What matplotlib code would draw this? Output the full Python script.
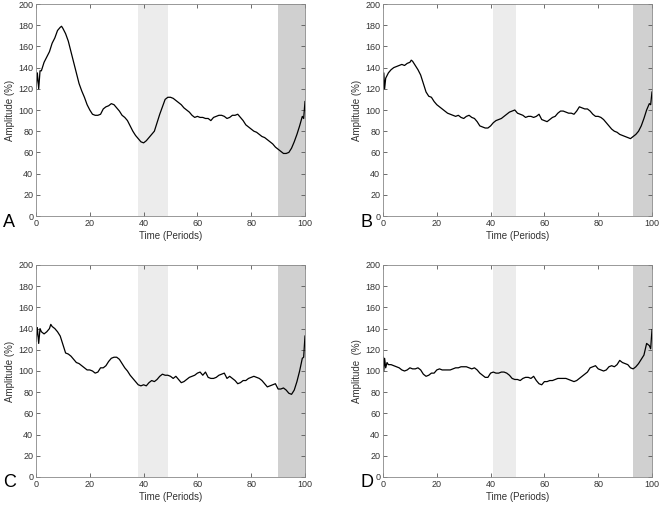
import matplotlib
matplotlib.use("Agg")
import matplotlib.pyplot as plt

plt.rcParams['font.family'] = ['Liberation Sans', 'DejaVu Sans']

# Panel A
xa = [0, 0.5, 1, 1.5, 2, 3, 4, 5, 6, 7, 8, 9, 9.5, 10, 11, 12, 13, 14, 15, 16, 17, 18, 19, 20,
      21, 22, 23, 24, 25, 26, 27, 28, 29, 30, 31, 32, 33, 34, 35, 36, 37, 38, 39, 40,
      41, 42, 43, 44, 45, 46, 47, 48, 49, 50, 51, 52, 53, 54, 55, 56, 57, 58, 59, 60,
      61, 62, 63, 64, 65, 66, 67, 68, 69, 70, 71, 72, 73, 74, 75, 76, 77, 78, 79, 80,
      81, 82, 83, 84, 85, 86, 87, 88, 89, 90, 91, 92, 93, 94, 95, 96, 97, 98, 99, 99.5, 100]
ya = [120, 135, 120, 137, 137, 145, 150, 155, 163, 168, 175, 178, 179, 177, 172, 165, 155, 145, 135, 125, 118, 112, 105, 100,
      96, 95, 95, 96, 101, 103, 104, 106, 105, 102, 99, 95, 93, 90, 85, 80, 76, 73, 70, 69,
      71, 74, 77, 80, 88, 96, 103, 110, 112, 112, 111, 109, 107, 105, 102, 100, 98, 95, 93, 94,
      93, 93, 92, 92, 90, 93, 94, 95, 95, 94, 92, 93, 95, 95, 96, 93, 90, 86, 84, 82,
      80, 79, 77, 75, 74, 72, 70, 68, 65, 63, 61, 59, 59, 60, 64, 70, 77, 85, 94, 92, 108]

# Panel B
xb = [0, 0.3, 0.6, 1, 2, 3, 4, 5, 6, 7, 8, 9, 10, 10.5, 11, 12, 13, 14, 15, 16, 17, 18, 19, 20,
      21, 22, 23, 24, 25, 26, 27, 28, 29, 30, 31, 32, 33, 34, 35, 36, 37, 38, 39, 40,
      41, 42, 43, 44, 45, 46, 47, 48, 49, 50, 51, 52, 53, 54, 55, 56, 57, 58, 59, 60,
      61, 62, 63, 64, 65, 66, 67, 68, 69, 70, 71, 72, 73, 74, 75, 76, 77, 78, 79, 80,
      81, 82, 83, 84, 85, 86, 87, 88, 89, 90, 91, 92, 93, 94, 95, 96, 97, 98, 99, 99.5, 100]
yb = [120, 135, 120, 130, 135, 138, 140, 141, 142, 143, 142, 144, 145, 147, 146, 142, 138, 133, 125, 117, 113, 112, 108, 105,
      103, 101, 99, 97, 96, 95, 94, 95, 93, 92, 94, 95, 93, 92, 89, 85, 84, 83, 83, 85,
      88, 90, 91, 92, 94, 96, 98, 99, 100, 97, 96, 95, 93, 94, 94, 93, 94, 96, 91, 90,
      89, 91, 93, 94, 97, 99, 99, 98, 97, 97, 96, 99, 103, 102, 101, 101, 99, 96, 94, 94,
      93, 91, 88, 85, 82, 80, 79, 77, 76, 75, 74, 73, 75, 77, 80, 85, 92, 100, 106, 105, 117]

# Panel C
xc = [0, 0.5, 1, 1.5, 2, 3, 4, 5, 5.5, 6, 7, 8, 9, 10, 11, 12, 13, 14, 15, 16, 17, 18, 19, 20,
      21, 22, 23, 24, 25, 26, 27, 28, 29, 30, 31, 32, 33, 34, 35, 36, 37, 38, 39, 40,
      41, 42, 43, 44, 45, 46, 47, 48, 49, 50, 51, 52, 53, 54, 55, 56, 57, 58, 59, 60,
      61, 62, 63, 64, 65, 66, 67, 68, 69, 70, 71, 72, 73, 74, 75, 76, 77, 78, 79, 80,
      81, 82, 83, 84, 85, 86, 87, 88, 89, 90, 91, 92, 93, 94, 95, 96, 97, 98, 99, 99.5, 100]
yc = [128, 141, 126, 140, 137, 135, 137, 140, 144, 142, 140, 137, 133, 125, 117, 116, 114, 111, 108, 107, 105, 103, 101, 101,
      100, 98, 99, 103, 103, 105, 109, 112, 113, 113, 111, 107, 103, 100, 96, 93, 90, 87, 86, 87,
      86, 89, 91, 90, 92, 95, 97, 96, 96, 95, 93, 95, 92, 89, 90, 92, 94, 95, 96, 98,
      99, 96, 99, 94, 93, 93, 94, 96, 97, 98, 93, 95, 93, 91, 88, 89, 91, 91, 93, 94,
      95, 94, 93, 91, 88, 85, 86, 87, 88, 83, 83, 84, 82, 79, 78, 82, 90, 100, 112, 113, 133]

# Panel D
xd = [0, 0.3, 0.6, 1, 1.5, 2, 3, 4, 5, 6, 7, 8, 9, 10, 11, 12, 13, 14, 15, 16, 17, 18, 19, 20,
      21, 22, 23, 24, 25, 26, 27, 28, 29, 30, 31, 32, 33, 34, 35, 36, 37, 38, 39, 40,
      41, 42, 43, 44, 45, 46, 47, 48, 49, 50, 51, 52, 53, 54, 55, 56, 57, 58, 59, 60,
      61, 62, 63, 64, 65, 66, 67, 68, 69, 70, 71, 72, 73, 74, 75, 76, 77, 78, 79, 80,
      81, 82, 83, 84, 85, 86, 87, 88, 89, 90, 91, 92, 93, 94, 95, 96, 97, 98, 99, 99.5, 100]
yd = [113, 100, 112, 103, 108, 106, 106, 105, 104, 103, 101, 100, 101, 103, 102, 102, 103, 101, 97, 95, 96, 98, 98, 101,
      102, 101, 101, 101, 101, 102, 103, 103, 104, 104, 104, 103, 102, 103, 101, 98, 96, 94, 94, 98,
      99, 98, 98, 99, 99, 98, 96, 93, 92, 92, 91, 93, 94, 94, 93, 95, 91, 88, 87, 90,
      90, 91, 91, 92, 93, 93, 93, 93, 92, 91, 90, 91, 93, 95, 97, 99, 103, 104, 105, 102,
      101, 100, 101, 104, 105, 104, 106, 110, 108, 107, 106, 103, 102, 104, 107, 111, 115, 126, 124, 121, 139]

labels = ["A", "B", "C", "D"]
ylabels = ["Amplitude (%)", "Amplitude (%)", "Amplitude (%)", "Amplitude  (%)"]
light_band = [(38, 49), (41, 49.5), (38, 49), (41, 49.5)]
dark_band = [(90, 100), (93, 100), (90, 100), (93, 100)]

fig = plt.figure(figsize=(6.61, 5.05), dpi=100)
W, H = 661, 505
boxes = [(36, 4), (383, 4), (36, 265), (383, 265)]
label_pos = [(-0.10, -0.032), (-0.062, -0.032), (-0.10, -0.028), (-0.058, -0.028)]
aw, ah = 269, 212

series = [(xa, ya), (xb, yb), (xc, yc), (xd, yd)]
for i, (x, y) in enumerate(series):
    left, top = boxes[i]
    ax = fig.add_axes([left / W, (H - top - ah) / H, aw / W, ah / H])
    ax.axvspan(*light_band[i], color='#ececec', lw=0)
    ax.axvspan(*dark_band[i], color='#d0d0d0', lw=0)
    ax.plot(x, y, color='black', lw=0.9)
    ax.set_xlim(0, 100)
    ax.set_ylim(0, 200)
    ax.set_xticks(range(0, 101, 20))
    ax.set_yticks(range(0, 201, 20))
    ax.tick_params(direction='in', top=True, right=True, length=3, width=0.6,
                   labelsize=6.5, colors='#555555', labelcolor='#333333', pad=2)
    for s in ax.spines.values():
        s.set_color('#888888')
        s.set_linewidth(0.6)
    ax.set_xlabel("Time (Periods)", fontsize=7, color='#333333', labelpad=2.5)
    ax.set_ylabel(ylabels[i], fontsize=7, color='#333333', labelpad=2)
    ax.text(label_pos[i][0], label_pos[i][1], labels[i], transform=ax.transAxes,
            fontsize=13, ha='center', va='center', color='black')

fig.savefig("out.png", dpi=100)
